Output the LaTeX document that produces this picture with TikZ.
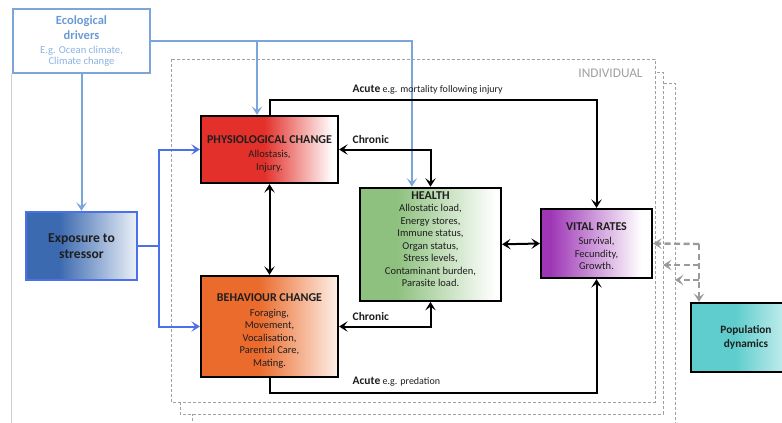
\documentclass[tikz,border=0pt]{standalone}
\usepackage{fontspec}
\setmainfont{Carlito}
\usetikzlibrary{arrows.meta}

% palette
\definecolor{ecoblue}{HTML}{7AA6DC}
\definecolor{ecotext}{HTML}{6A9AD6}
\definecolor{ecotextlt}{HTML}{8DB3E2}
\definecolor{linkblue}{HTML}{4C6FEA}
\definecolor{expofill}{HTML}{3C6AB0}
\definecolor{expoend}{HTML}{ECF1F8}
\definecolor{physfill}{HTML}{E3302A}
\definecolor{behafill}{HTML}{EB6B2C}
\definecolor{behaend}{HTML}{FDF0E8}
\definecolor{healfill}{HTML}{8EC17F}
\definecolor{vitafill}{HTML}{9E36B6}
\definecolor{popfill}{HTML}{5FCDCD}
\definecolor{popend}{HTML}{E2F7F7}
\definecolor{dashgrey}{HTML}{9A9A9A}
\definecolor{framegrey}{HTML}{A0A0A0}
\definecolor{edgegrey}{HTML}{CFCFCF}
\definecolor{txt}{HTML}{1E1E1E}

% left-to-right fades for the boxes
\pgfdeclarehorizontalshading{expshade}{100bp}{color(0bp)=(expofill); color(25bp)=(expofill); color(40bp)=(expofill); color(75bp)=(expoend); color(100bp)=(expoend)}
\pgfdeclarehorizontalshading{physshade}{100bp}{color(0bp)=(physfill); color(25bp)=(physfill); color(48bp)=(physfill); color(73bp)=(white); color(100bp)=(white)}
\pgfdeclarehorizontalshading{behashade}{100bp}{color(0bp)=(behafill); color(25bp)=(behafill); color(46bp)=(behafill); color(75bp)=(behaend); color(100bp)=(behaend)}
\pgfdeclarehorizontalshading{healshade}{100bp}{color(0bp)=(healfill); color(25bp)=(healfill); color(38bp)=(healfill); color(73bp)=(white); color(100bp)=(white)}
\pgfdeclarehorizontalshading{vitashade}{100bp}{color(0bp)=(vitafill); color(25bp)=(vitafill); color(29bp)=(vitafill); color(70bp)=(white); color(100bp)=(white)}
\pgfdeclarehorizontalshading{popshade}{100bp}{color(0bp)=(popfill); color(25bp)=(popfill); color(45bp)=(popfill); color(75bp)=(popend); color(100bp)=(popend)}

% bold box heading; the optional strut height sets the room above it
\newcommand{\boxtitle}[2][0pt]{\rule{0pt}{#1}\textbf{\fontsize{12}{14}\selectfont #2}}

\tikzset{
  >={Stealth[length=8.5pt,width=10.5pt,inset=3.8pt]},
  frame/.style={draw=framegrey, fill=white, line width=0.8pt, dash pattern=on 3pt off 2pt},
  box/.style={draw=black, line width=2.2pt, align=center, inner sep=0pt, text=txt,
    font=\fontsize{10.5}{12.5}\selectfont},
  ecoline/.style={draw=ecoblue, line width=2pt, ->},
  linkline/.style={draw=linkblue, line width=2pt, ->},
  blk/.style={draw=black, line width=2pt},
  gdash/.style={draw=dashgrey, line width=2.4pt, dash pattern=on 6pt off 3.5pt, ->},
  lbl/.style={anchor=west, inner sep=0pt, text=txt}
}

\begin{document}
\begin{tikzpicture}[x=1pt,y=-1pt]
\useasboundingbox (0,0) rectangle (782,423);

% stacked frames of the individual level
\draw[frame] (192,83) rectangle (675,445);
\draw[frame] (180,72) rectangle (663,414);
\draw[frame] (171,59) rectangle (655,402);
\node[text=framegrey, font=\fontsize{13.3}{15}\selectfont, inner sep=0pt] (indiv) at (610.5,73) {INDIVIDUAL};

% boxes
\node[box, draw=ecoblue, fill=white, minimum width=137pt, minimum height=64pt,
      font=\fontsize{10.6}{12.4}\selectfont] (eco) at (81.5,41)
  {\textcolor{ecotext}{\fontsize{12.5}{15}\selectfont\bfseries Ecological}\\[2.5pt]
   \textcolor{ecotext}{\fontsize{12.5}{15}\selectfont\bfseries drivers}\\[2pt]
   \textcolor{ecotextlt}{E.g. Ocean climate,}\\[-1pt]
   \textcolor{ecotextlt}{Climate change}};

\draw[edgegrey, line width=0.9pt] ([xshift=-0.5pt]eco.south west) -- ++(0,360);

\node[box, draw=linkblue, shading=expshade, minimum width=111pt, minimum height=68pt,
      font=\fontsize{13.6}{16.5}\selectfont\bfseries] (expo) at (81.5,246)
  {Exposure to\\ stressor};

\node[box, shading=physshade, minimum width=137pt, minimum height=67pt] (physio) at (269.5,149.5)
  {\boxtitle[16pt]{PHYSIOLOGICAL CHANGE}\\[2pt] Allostasis,\\ Injury.};

\node[box, shading=behashade, minimum width=137pt, minimum height=101pt] (behav) at (269.5,326.5)
  {\boxtitle[17pt]{BEHAVIOUR CHANGE}\\[2pt] Foraging,\\ Movement,\\ Vocalisation,\\ Parental Care,\\ Mating.};

\node[box, shading=healshade, minimum width=141pt, minimum height=113pt] (health) at (430.5,244.3)
  {\boxtitle{HEALTH}\\ Allostatic load,\\ Energy stores,\\ Immune status,\\ Organ status,\\ Stress levels,\\ Contaminant burden,\\ Parasite load.\\[-2pt]};

\node[box, shading=vitashade, minimum width=111pt, minimum height=69pt] (vital) at (596.5,243.5)
  {\boxtitle[13.5pt]{VITAL RATES}\\[1.5pt] Survival,\\ Fecundity,\\ Growth.};

\node[box, shading=popshade, minimum width=110pt, minimum height=69pt,
      font=\fontsize{11.3}{13.8}\selectfont\bfseries] (pop) at (746,337.5)
  {Population\\ dynamics};

% ecological drivers feed in from the top
\coordinate (pj) at (257,41);
\draw[ecoline] (eco.east) -| ([xshift=53pt]health.north west);
\draw[ecoline] (pj) -- ([xshift=-12.5pt]physio.north);
\draw[ecoline] (eco.south) -- (expo.north);

% exposure branches to both responses
\coordinate (bj) at (159,246);
\draw[linkline, -] (expo.east) -- (bj);
\draw[linkline] (bj) |- (physio.west);
\draw[linkline] (bj) |- (behav.west);

% links between the individual-level boxes
\draw[blk, <->] (physio.south) -- (behav.north);
\draw[blk, ->] (physio.north) -- ++(0,-15) -| (vital.north);
\draw[blk, <->] (physio.east) -| (health.north);
\draw[blk, <->] (behav.east) -| (health.south);
\draw[blk, ->] (behav.south) -- ++(0,15) -| (vital.south);
\draw[blk, <->] (health.east) -- (vital.west);

\node[lbl] (acutetop) at (352.5,90)
  {\textbf{\fontsize{11.5}{13}\selectfont Acute} {\fontsize{10}{12}\selectfont e.g. mortality following injury}};
\node[lbl] (chrontop) at (352.5,140) {\textbf{\fontsize{11.5}{13}\selectfont Chronic}};
\node[lbl] (chronbot) at (352.5,317) {\textbf{\fontsize{11.5}{13}\selectfont Chronic}};
\node[lbl] (acutebot) at (352.5,382)
  {\textbf{\fontsize{11.5}{13}\selectfont Acute} {\fontsize{10}{12}\selectfont e.g. predation}};

% feedback between population dynamics and vital rates
\coordinate (gv) at (699,244);
\coordinate (g2) at (699,265);
\coordinate (g2t) at (663,265);
\coordinate (g3) at (699,280);
\coordinate (g3t) at (675,280);
\draw[gdash] (gv) -- (vital.east);
\draw[gdash] (g2) -- (g2t);
\draw[gdash] (g3) -- (g3t);
\draw[gdash] (gv) -- (gv |- pop.north);
\end{tikzpicture}
\end{document}
